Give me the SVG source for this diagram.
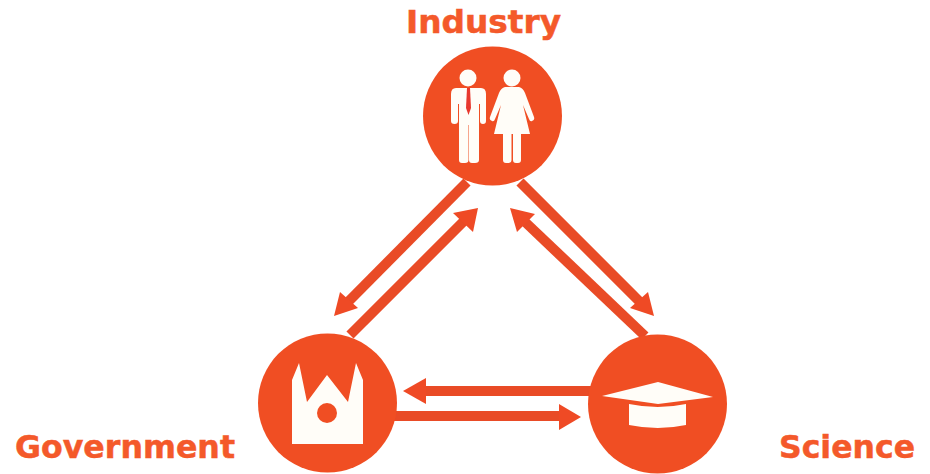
<svg xmlns="http://www.w3.org/2000/svg" width="930" height="474" viewBox="0 0 930 474">
<style>
.c{fill:#f04e23}
.i{fill:#fffdf8}
.l{stroke:#e94b26;stroke-width:10;fill:none}
.h{fill:#ef4a25}
.t{font-family:"DejaVu Sans",Verdana,sans-serif;font-weight:700;font-size:32px;fill:#f4592a;stroke:#f4592a;stroke-width:.5px}
</style>
<rect width="930" height="474" fill="#fff"/>
<g id="connectors">
<path class="l" d="M467 182L346 304"/><path class="h" d="M334 316L340 292L358 308Z"/>
<path class="l" d="M350 335L465 220"/><path class="h" d="M478 208L453 213L473 232Z"/>
<path class="l" d="M645 336L523 220"/><path class="h" d="M510 208L535 214L517 232Z"/>
<path class="l" d="M520 182L642 304"/><path class="h" d="M654 316L648 292L630 308Z"/>
<path class="l" d="M595 391H424"/><path class="h" d="M403 391L426 378V404Z"/>
<path class="l" d="M392 416H561"/><path class="h" d="M581 417L559 404V430Z"/>
</g>
<g id="industry">
<circle class="c" cx="492.500" cy="116" r="69.500"/>
<circle class="i" cx="468" cy="78" r="8.500"/>
<circle class="i" cx="512" cy="78" r="8.500"/>
<path class="i" d="M456 88H481Q486 88 486 94V121Q486 124 483 124Q480 124 480 121V104H479V160Q479 163 475 163H472Q469 163 469 160V125H468.500V160Q468.500 163 465 163H462Q459 163 459 160V104H458V121Q458 124 454.500 124Q451 124 451 121V94Q451 88 456 88Z"/>
<path fill="#e8382e" d="M467 88H470L471 108L468.500 115L466 108Z"/>
<path class="i" d="M505 87H519Q523 88 525 93L534 117Q535 120 532 121Q530 122 529 119L523 105L530 134H521V160Q521 163 518 163H516Q513 163 513 160V134H511.500V160Q511.500 163 508 163H506Q503 163 503 160V134H494L501 105L495 119Q494 122 492 121Q489 120 490 117L499 93Q501 88 505 87Z"/>
</g>
<g id="government">
<circle class="c" cx="327.500" cy="403" r="69.500"/>
<path class="i" d="M292 444V380L299 363L307 402L327 375L348 402L356 363L363 380V444Z"/>
<circle class="c" cx="327" cy="413" r="10"/>
</g>
<g id="science">
<circle class="c" cx="657.500" cy="404" r="69.500"/>
<path class="i" d="M602 396L658 382L713 397L658 404Z"/>
<path class="i" d="M629 404Q658 410 686 404V425Q658 431 629 425Z"/>
</g>
<text class="t" x="406" y="33" textLength="155" lengthAdjust="spacingAndGlyphs">Industry</text>
<text class="t" x="15" y="458" textLength="220" lengthAdjust="spacingAndGlyphs">Government</text>
<text class="t" x="779" y="458" textLength="136" lengthAdjust="spacingAndGlyphs">Science</text>
</svg>
